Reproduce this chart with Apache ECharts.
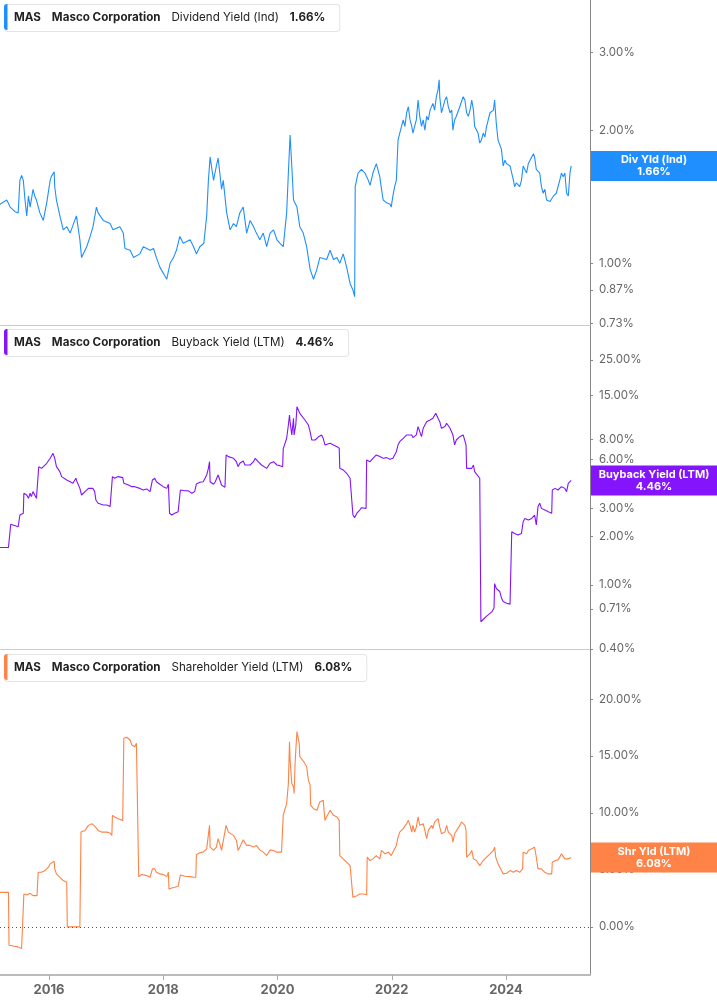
<!DOCTYPE html>
<html>
<head>
<meta charset="utf-8">
<title>MAS - Dividend, Buyback and Shareholder Yield</title>
<script src="https://cdn.jsdelivr.net/npm/echarts@6/dist/echarts.min.js"></script>
<style>
  html, body { margin: 0; padding: 0; background: #fff; }
  #chart { width: 717px; height: 1005px; }
</style>
</head>
<body>
<div id="chart"></div>
<script>
// x = decimal year, y = yield in %
const divYield = [
  [2015.14,1.36],[2015.26,1.39],[2015.32,1.34],[2015.40,1.31],[2015.46,1.30],[2015.49,1.54],[2015.52,1.58],[2015.55,1.54],
  [2015.58,1.39],[2015.61,1.28],[2015.64,1.42],[2015.67,1.34],[2015.72,1.47],[2015.75,1.42],[2015.78,1.39],[2015.84,1.30],
  [2015.90,1.25],[2015.96,1.37],[2016.02,1.54],[2016.04,1.57],[2016.09,1.61],[2016.10,1.49],[2016.13,1.39],[2016.19,1.28],
  [2016.25,1.19],[2016.31,1.21],[2016.37,1.17],[2016.45,1.25],[2016.48,1.28],[2016.54,1.13],[2016.57,1.03],[2016.66,1.09],
  [2016.72,1.15],[2016.77,1.21],[2016.83,1.34],[2016.86,1.30],[2016.95,1.25],[2017.07,1.23],[2017.12,1.19],[2017.24,1.21],
  [2017.30,1.17],[2017.33,1.08],[2017.42,1.07],[2017.48,1.03],[2017.59,1.05],[2017.65,1.09],[2017.77,1.07],[2017.83,1.08],
  [2017.88,1.03],[2017.94,0.98],[2018.00,0.95],[2018.06,0.92],[2018.12,1.00],[2018.18,1.03],[2018.23,1.07],[2018.29,1.15],
  [2018.35,1.11],[2018.47,1.13],[2018.53,1.09],[2018.58,1.05],[2018.64,1.09],[2018.71,1.11],[2018.76,1.28],[2018.79,1.54],
  [2018.82,1.74],[2018.88,1.54],[2018.93,1.66],[2018.96,1.73],[2018.99,1.60],[2019.02,1.47],[2019.05,1.54],[2019.11,1.30],
  [2019.17,1.19],[2019.23,1.23],[2019.28,1.21],[2019.34,1.30],[2019.40,1.34],[2019.46,1.17],[2019.52,1.25],[2019.58,1.21],
  [2019.63,1.17],[2019.69,1.13],[2019.75,1.17],[2019.81,1.09],[2019.87,1.17],[2019.93,1.19],[2019.99,1.13],[2020.04,1.11],
  [2020.10,1.09],[2020.13,1.19],[2020.16,1.30],[2020.19,1.60],[2020.22,1.95],[2020.25,1.66],[2020.28,1.39],[2020.34,1.34],
  [2020.39,1.21],[2020.45,1.17],[2020.51,1.09],[2020.57,0.97],[2020.63,0.92],[2020.69,0.97],[2020.74,1.03],[2020.86,1.02],
  [2020.92,1.07],[2020.98,1.02],[2021.04,1.03],[2021.09,1.00],[2021.15,1.05],[2021.21,0.98],[2021.27,0.90],[2021.32,0.87],
  [2021.35,0.84],[2021.36,1.49],[2021.41,1.60],[2021.47,1.63],[2021.53,1.60],[2021.59,1.54],[2021.62,1.50],[2021.67,1.60],
  [2021.73,1.68],[2021.79,1.57],[2021.82,1.47],[2021.85,1.39],[2021.91,1.37],[2021.97,1.36],[2021.99,1.34],[2022.02,1.42],
  [2022.05,1.49],[2022.08,1.54],[2022.11,1.90],[2022.14,1.97],[2022.20,2.11],[2022.23,2.04],[2022.26,2.19],[2022.29,2.26],
  [2022.32,2.11],[2022.35,2.04],[2022.37,1.97],[2022.43,2.11],[2022.46,2.34],[2022.49,2.15],[2022.52,2.04],[2022.55,2.11],
  [2022.58,2.00],[2022.61,2.15],[2022.64,2.11],[2022.67,2.22],[2022.72,2.30],[2022.75,2.22],[2022.78,2.38],[2022.81,2.47],
  [2022.83,2.60],[2022.84,2.38],[2022.87,2.19],[2022.90,2.26],[2022.93,2.34],[2022.96,2.38],[2022.99,2.26],[2023.02,2.19],
  [2023.05,2.22],[2023.07,2.00],[2023.10,2.11],[2023.13,2.15],[2023.19,2.26],[2023.25,2.38],[2023.28,2.34],[2023.31,2.19],
  [2023.34,2.15],[2023.37,2.22],[2023.40,2.34],[2023.43,2.22],[2023.45,2.04],[2023.48,2.04],[2023.51,1.97],[2023.54,1.87],
  [2023.57,1.90],[2023.60,1.97],[2023.63,1.93],[2023.66,2.04],[2023.72,2.19],[2023.78,2.22],[2023.80,2.34],[2023.83,2.07],
  [2023.86,1.90],[2023.89,1.90],[2023.92,1.81],[2023.95,1.66],[2023.98,1.71],[2024.01,1.68],[2024.07,1.66],[2024.13,1.54],
  [2024.15,1.49],[2024.18,1.52],[2024.24,1.49],[2024.27,1.54],[2024.30,1.66],[2024.33,1.66],[2024.36,1.60],[2024.39,1.68],
  [2024.42,1.71],[2024.48,1.77],[2024.50,1.74],[2024.53,1.63],[2024.59,1.60],[2024.62,1.49],[2024.65,1.44],[2024.68,1.47],
  [2024.71,1.39],[2024.77,1.38],[2024.80,1.37],[2024.83,1.42],[2024.88,1.44],[2024.91,1.44],[2024.94,1.54],[2024.97,1.60],
  [2025.00,1.57],[2025.03,1.60],[2025.06,1.44],[2025.09,1.42],[2025.12,1.60],[2025.14,1.66]
];

const buybackYield = [
  [2015.14,1.71],[2015.29,1.71],[2015.30,1.73],[2015.33,2.38],[2015.37,2.36],[2015.46,2.30],[2015.49,2.72],[2015.55,2.79],
  [2015.56,3.71],[2015.61,3.62],[2015.64,3.45],[2015.67,3.71],[2015.69,3.54],[2015.72,3.80],[2015.75,3.62],[2015.78,3.45],
  [2015.81,3.45],[2015.82,5.43],[2015.87,5.30],[2015.90,5.43],[2015.96,5.70],[2016.02,6.12],[2016.04,6.27],[2016.07,6.57],
  [2016.09,6.73],[2016.10,6.12],[2016.13,5.43],[2016.19,5.06],[2016.22,4.71],[2016.31,4.49],[2016.37,4.38],[2016.42,4.28],
  [2016.47,4.60],[2016.49,4.38],[2016.54,3.98],[2016.57,3.62],[2016.63,3.80],[2016.69,3.98],[2016.72,3.89],[2016.77,3.98],
  [2016.80,3.80],[2016.82,3.37],[2016.86,3.22],[2016.89,3.14],[2016.95,3.14],[2017.01,3.14],[2017.07,3.07],[2017.10,2.99],
  [2017.11,4.71],[2017.15,4.60],[2017.21,4.71],[2017.29,4.64],[2017.31,4.28],[2017.39,4.18],[2017.45,4.08],[2017.50,4.08],
  [2017.53,3.98],[2017.59,3.98],[2017.65,3.89],[2017.71,3.95],[2017.77,3.80],[2017.80,3.71],[2017.81,4.49],[2017.85,4.60],
  [2017.88,4.38],[2017.94,4.22],[2018.00,4.08],[2018.06,3.98],[2018.09,4.22],[2018.11,2.79],[2018.15,2.72],[2018.20,2.79],
  [2018.26,2.85],[2018.29,2.92],[2018.30,3.89],[2018.38,3.85],[2018.44,3.84],[2018.50,3.71],[2018.55,3.80],[2018.58,4.24],
  [2018.64,4.34],[2018.70,4.38],[2018.73,4.49],[2018.76,4.82],[2018.79,5.30],[2018.81,5.83],[2018.82,4.38],[2018.88,4.22],
  [2018.91,4.38],[2018.93,4.38],[2018.96,4.82],[2018.99,4.49],[2019.02,4.18],[2019.08,4.04],[2019.10,6.42],[2019.14,6.27],
  [2019.23,6.12],[2019.28,5.83],[2019.31,5.43],[2019.34,5.70],[2019.40,5.89],[2019.43,5.56],[2019.46,5.43],[2019.52,5.56],
  [2019.58,5.83],[2019.61,6.12],[2019.66,5.83],[2019.72,5.56],[2019.75,5.70],[2019.81,5.30],[2019.87,5.70],[2019.93,5.83],
  [2019.99,5.56],[2020.04,5.51],[2020.09,5.43],[2020.10,7.00],[2020.13,7.06],[2020.16,8.15],[2020.19,9.86],[2020.21,11.37],
  [2020.22,10.34],[2020.25,8.55],[2020.28,10.84],[2020.29,8.55],[2020.32,9.86],[2020.34,12.81],[2020.36,12.81],[2020.39,11.65],
  [2020.42,11.37],[2020.48,10.59],[2020.54,9.86],[2020.57,8.96],[2020.60,7.95],[2020.66,7.95],[2020.72,8.34],[2020.77,8.55],
  [2020.80,8.15],[2020.83,7.41],[2020.86,7.41],[2020.92,7.59],[2020.98,7.41],[2021.04,7.23],[2021.08,7.06],[2021.09,5.30],
  [2021.15,5.18],[2021.21,4.94],[2021.27,4.60],[2021.30,4.49],[2021.32,2.72],[2021.35,2.62],[2021.39,2.79],[2021.44,2.92],
  [2021.47,3.02],[2021.55,2.99],[2021.56,5.98],[2021.62,5.83],[2021.67,6.12],[2021.73,6.42],[2021.79,6.27],[2021.85,6.12],
  [2021.91,6.18],[2021.97,6.03],[2022.02,6.12],[2022.08,6.73],[2022.11,7.41],[2022.14,7.77],[2022.20,8.15],[2022.26,8.55],
  [2022.29,8.75],[2022.35,8.55],[2022.37,8.23],[2022.43,8.55],[2022.46,9.63],[2022.49,8.96],[2022.52,8.34],[2022.55,9.40],
  [2022.58,9.86],[2022.61,10.34],[2022.64,10.10],[2022.67,10.59],[2022.72,10.84],[2022.77,11.65],[2022.79,11.82],[2022.81,10.84],
  [2022.84,10.34],[2022.87,9.40],[2022.93,9.63],[2022.96,10.10],[2022.99,9.86],[2023.02,9.40],[2023.05,9.18],[2023.07,8.55],
  [2023.10,7.41],[2023.13,7.95],[2023.19,8.34],[2023.25,8.55],[2023.28,8.34],[2023.30,7.41],[2023.31,5.30],[2023.34,5.18],
  [2023.40,5.30],[2023.43,5.56],[2023.45,5.06],[2023.48,4.94],[2023.54,4.60],[2023.55,4.49],[2023.56,0.59],[2023.60,0.61],
  [2023.66,0.64],[2023.75,0.68],[2023.79,0.72],[2023.80,1.02],[2023.83,0.95],[2023.89,0.91],[2023.92,0.83],[2023.95,0.79],
  [2024.01,0.77],[2024.07,0.76],[2024.09,0.75],[2024.10,2.14],[2024.15,2.09],[2024.21,2.04],[2024.27,2.09],[2024.30,2.47],
  [2024.33,2.59],[2024.39,2.53],[2024.45,2.59],[2024.50,2.72],[2024.53,2.36],[2024.56,3.07],[2024.59,3.22],[2024.62,2.99],
  [2024.68,2.92],[2024.74,2.85],[2024.80,2.79],[2024.81,3.89],[2024.86,3.98],[2024.91,3.89],[2024.97,4.08],[2025.00,4.18],
  [2025.03,3.98],[2025.06,3.80],[2025.09,4.28],[2025.12,4.34],[2025.14,4.46]
];

const shareholderYield = [
  [2015.14,3.03],[2015.29,3.03],[2015.30,-1.62],[2015.37,-1.68],[2015.46,-1.76],[2015.52,-1.91],[2015.55,-1.88],[2015.56,2.88],
  [2015.61,2.79],[2015.67,2.94],[2015.72,2.74],[2015.79,2.74],[2015.81,4.79],[2015.87,4.79],[2015.93,4.94],[2015.99,5.24],
  [2016.02,5.53],[2016.04,5.38],[2016.09,5.76],[2016.10,5.09],[2016.13,4.65],[2016.19,4.35],[2016.25,4.06],[2016.31,3.91],
  [2016.32,0.00],[2016.42,0.00],[2016.54,0.00],[2016.56,8.32],[2016.63,8.47],[2016.69,8.91],[2016.75,9.06],[2016.80,8.85],
  [2016.86,8.47],[2016.92,8.32],[2017.01,8.32],[2017.07,8.24],[2017.10,8.03],[2017.11,9.79],[2017.15,9.65],[2017.21,9.50],
  [2017.29,9.35],[2017.31,16.56],[2017.36,16.65],[2017.42,16.41],[2017.45,15.97],[2017.50,15.82],[2017.53,16.12],[2017.56,15.97],
  [2017.57,4.41],[2017.62,4.59],[2017.71,4.50],[2017.77,4.35],[2017.81,5.09],[2017.85,5.09],[2017.88,4.79],[2017.94,4.65],
  [2018.00,4.59],[2018.06,4.41],[2018.09,4.79],[2018.10,3.32],[2018.15,3.41],[2018.20,3.47],[2018.26,3.56],[2018.29,3.62],
  [2018.30,4.56],[2018.38,4.44],[2018.47,4.41],[2018.53,4.35],[2018.57,4.35],[2018.58,6.35],[2018.64,6.50],[2018.70,6.56],
  [2018.76,6.85],[2018.81,8.91],[2018.82,7.00],[2018.88,6.71],[2018.93,7.00],[2018.96,7.74],[2018.99,7.29],[2019.02,6.71],
  [2019.05,6.56],[2019.10,8.91],[2019.14,8.32],[2019.23,8.03],[2019.28,7.59],[2019.31,6.71],[2019.34,7.00],[2019.40,7.65],
  [2019.46,7.15],[2019.52,7.15],[2019.58,7.00],[2019.63,7.15],[2019.69,6.76],[2019.75,6.56],[2019.81,6.26],[2019.87,6.76],
  [2019.93,6.71],[2019.99,6.56],[2020.07,6.56],[2020.10,9.79],[2020.13,9.94],[2020.16,10.82],[2020.19,12.59],[2020.21,16.26],
  [2020.22,14.65],[2020.25,12.59],[2020.28,12.29],[2020.29,11.71],[2020.31,14.65],[2020.34,17.15],[2020.35,17.29],[2020.38,16.12],
  [2020.39,14.94],[2020.42,15.09],[2020.46,14.50],[2020.51,14.06],[2020.54,12.88],[2020.57,12.44],[2020.58,10.68],[2020.63,10.38],
  [2020.69,10.24],[2020.74,10.97],[2020.80,11.12],[2020.83,9.35],[2020.86,9.50],[2020.92,10.24],[2020.98,9.79],[2021.04,9.65],
  [2021.08,9.35],[2021.09,6.26],[2021.15,5.97],[2021.21,5.68],[2021.27,5.38],[2021.30,5.24],[2021.32,2.59],[2021.35,2.53],
  [2021.39,2.74],[2021.44,2.88],[2021.50,2.88],[2021.56,2.82],[2021.57,6.12],[2021.62,5.82],[2021.67,5.97],[2021.73,6.26],
  [2021.79,5.97],[2021.82,6.71],[2021.88,6.41],[2021.94,6.56],[2021.99,6.26],[2022.02,6.56],[2022.08,7.15],[2022.11,7.88],
  [2022.14,8.32],[2022.20,8.62],[2022.26,9.06],[2022.29,9.35],[2022.32,8.91],[2022.35,8.32],[2022.37,8.91],[2022.40,8.32],
  [2022.43,8.76],[2022.46,9.65],[2022.49,8.91],[2022.52,8.76],[2022.55,9.06],[2022.58,8.47],[2022.61,7.74],[2022.64,8.47],
  [2022.67,8.32],[2022.70,8.91],[2022.72,8.62],[2022.75,9.21],[2022.78,9.06],[2022.81,9.50],[2022.83,9.65],[2022.84,8.76],
  [2022.87,8.18],[2022.90,8.32],[2022.93,8.32],[2022.96,8.91],[2022.99,8.32],[2023.02,8.18],[2023.05,8.03],[2023.07,7.44],
  [2023.10,8.18],[2023.13,8.32],[2023.19,8.91],[2023.22,9.21],[2023.25,9.35],[2023.28,8.91],[2023.30,8.47],[2023.31,6.12],
  [2023.34,6.12],[2023.37,6.41],[2023.40,6.71],[2023.43,5.97],[2023.45,5.82],[2023.48,5.82],[2023.54,5.38],[2023.57,5.53],
  [2023.60,5.82],[2023.66,6.12],[2023.72,6.41],[2023.78,6.71],[2023.80,7.00],[2023.82,6.12],[2023.86,5.53],[2023.89,5.24],
  [2023.92,4.94],[2023.95,4.65],[2024.01,4.71],[2024.04,4.65],[2024.07,4.94],[2024.13,4.79],[2024.18,4.94],[2024.24,4.79],
  [2024.29,5.09],[2024.30,6.56],[2024.36,6.41],[2024.39,6.71],[2024.45,6.85],[2024.48,6.71],[2024.50,7.00],[2024.53,6.12],
  [2024.56,5.09],[2024.59,4.94],[2024.62,5.09],[2024.68,4.79],[2024.74,4.65],[2024.80,4.65],[2024.81,5.68],[2024.86,5.82],
  [2024.91,5.88],[2024.94,6.12],[2024.97,6.41],[2025.00,6.26],[2025.03,5.97],[2025.06,5.82],[2025.09,5.97],[2025.12,6.06],
  [2025.14,6.08]
];

const yearTicks = [2016, 2018, 2020, 2022, 2024];
const divTicks = [0.73, 0.87, 1, 2, 3];
const buybackTicks = [0.4, 0.71, 1, 2, 3, 6, 8, 15, 25];
const shareholderTicks = [0, 5, 10, 15, 20];

const panels = [
  { ticker: 'MAS', company: 'Masco Corporation', metric: 'Dividend Yield (Ind)', tag: 'Div Yld (Ind)', color: '#1f8fff', data: divYield },
  { ticker: 'MAS', company: 'Masco Corporation', metric: 'Buyback Yield (LTM)', tag: 'Buyback Yield (LTM)', color: '#8314fc', data: buybackYield },
  { ticker: 'MAS', company: 'Masco Corporation', metric: 'Shareholder Yield (LTM)', tag: 'Shr Yld (LTM)', color: '#ff8246', data: shareholderYield }
];

const FONT = 'Inter, "Noto Sans", sans-serif';
const X_MIN = 2015.142, X_MAX = 2025.47;
const pct = v => v.toFixed(2) + '%';

const grid = [
  { left: 0, right: 127, top: 0, height: 325, outerBoundsMode: 'none' },
  { left: 0, right: 127, top: 325, height: 324, outerBoundsMode: 'none' },
  { left: 0, right: 127, top: 649, height: 326, outerBoundsMode: 'none' }
];

function xAxisFor(i) {
  const last = i === 2;
  return {
    type: 'value', gridIndex: i, min: X_MIN, max: X_MAX,
    axisLine: { show: true, onZero: false, lineStyle: { color: last ? '#bbb' : '#ccc', width: last ? 2 : 1 } },
    axisTick: { show: last, customValues: yearTicks, length: 5, lineStyle: { color: '#aaa' } },
    axisLabel: {
      show: last, customValues: yearTicks, formatter: v => String(v),
      color: '#666', fontSize: 13, fontWeight: 'bold', fontFamily: FONT, margin: 9
    },
    splitLine: { show: false }
  };
}

function yAxisFor(i, type, min, max, ticks) {
  return {
    type: type, gridIndex: i, position: 'right', min: min, max: max,
    axisLine: { show: true, onZero: false, lineStyle: { color: '#888' } },
    axisTick: { show: true, customValues: ticks, length: 3, lineStyle: { color: '#888' } },
    axisLabel: { customValues: ticks, formatter: pct, color: '#666', fontSize: 11.5, fontFamily: FONT, margin: 9 },
    splitLine: { show: false }
  };
}

const option = {
  animation: false,
  backgroundColor: '#fff',
  grid: grid,
  xAxis: [xAxisFor(0), xAxisFor(1), xAxisFor(2)],
  yAxis: [
    yAxisFor(0, 'log', 0.725, 3.94, divTicks),
    yAxisFor(1, 'log', 0.40, 41.2, buybackTicks),
    yAxisFor(2, 'value', -4.23, 24.4, shareholderTicks)
  ],
  series: panels.map((p, i) => ({
    type: 'line',
    xAxisIndex: i,
    yAxisIndex: i,
    data: p.data,
    showSymbol: false,
    silent: true,
    lineStyle: { color: p.color, width: 1.1 },
    itemStyle: { color: p.color },
    markLine: i === 2 ? {
      silent: true,
      symbol: 'none',
      label: { show: false },
      lineStyle: { color: '#555', type: [1, 3], width: 1 },
      data: [{ yAxis: 0 }]
    } : undefined
  }))
};

const chart = echarts.init(document.getElementById('chart'));
chart.setOption(option);

// title boxes and last-value tags
const tops = [4, 329, 654];
const graphics = [];
panels.forEach((p, i) => {
  const last = p.data[p.data.length - 1][1];
  graphics.push({
    type: 'text', left: 4, top: tops[i], z: 10,
    style: {
      text: `{b|${p.ticker}}{b|${p.company}}{n|${p.metric}}{v|${pct(last)}}`,
      rich: {
        b: { fontFamily: FONT, fontSize: 11.6, fontWeight: 'bold', fill: '#222', lineHeight: 14, padding: [0, 11, 0, 0] },
        n: { fontFamily: FONT, fontSize: 11.6, fill: '#222', lineHeight: 14, padding: [0, 11, 0, 0] },
        v: { fontFamily: FONT, fontSize: 11.6, fontWeight: 'bold', fill: '#222', lineHeight: 14 }
      },
      backgroundColor: '#fff',
      borderColor: '#e4e4e4',
      borderWidth: 1,
      borderRadius: 3,
      padding: [6, 14, 6, 9]
    }
  });
  graphics.push({
    type: 'rect', left: 4, top: tops[i], z: 11,
    shape: { width: 3.5, height: 26, r: [3, 0, 0, 3] },
    style: { fill: p.color }
  });
  const cy = chart.convertToPixel({ yAxisIndex: i }, last);
  graphics.push({
    type: 'rect', z: 12,
    shape: { x: 591, y: cy - 15, width: 126, height: 30 },
    style: { fill: p.color }
  });
  graphics.push({
    type: 'text', z: 13,
    style: {
      x: 654, y: cy, text: p.tag + '\n' + pct(last),
      align: 'center', verticalAlign: 'middle',
      fill: '#fff', fontFamily: FONT, fontSize: 11, fontWeight: 'bold', lineHeight: 12
    }
  });
});
chart.setOption({ graphic: graphics });
</script>
</body>
</html>
